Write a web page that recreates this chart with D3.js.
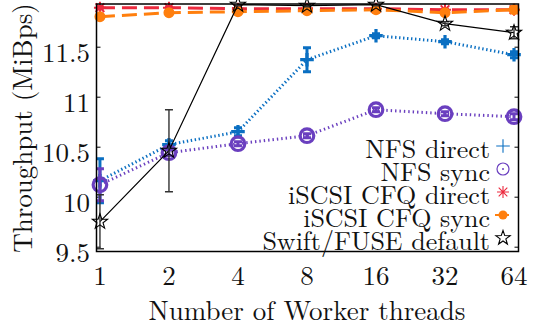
<!DOCTYPE html>
<html>
<head>
<meta charset="utf-8">
<script src="https://cdn.jsdelivr.net/npm/d3@7"></script>
<style>
  html, body { margin: 0; padding: 0; background: #fff; }
  svg { display: block; }
</style>
</head>
<body>
<svg id="chart" width="541" height="327"></svg>
<script>
// Worker thread counts (x axis, log2 spaced)
const threads = [1, 2, 4, 8, 16, 32, 64];

// Throughput per configuration, MiB/s, with error half-widths
const nfsDirect      = [10.16, 10.52, 10.65, 11.37, 11.61, 11.55, 11.42];
const nfsDirectErr   = [0.22, 0.04, 0.04, 0.12, 0.02, 0.02, 0.03];
const nfsSync        = [10.12, 10.44, 10.53, 10.61, 10.87, 10.83, 10.80];
const nfsSyncErr     = [0.16, 0.03, 0.02, 0.02, 0.02, 0.02, 0.03];
const iscsiDirect    = [11.89, 11.89, 11.88, 11.88, 11.88, 11.87, 11.87];
const iscsiDirectErr = [0.01, 0.01, 0.01, 0.01, 0.01, 0.01, 0.01];
const iscsiSync      = [11.80, 11.84, 11.85, 11.86, 11.87, 11.84, 11.87];
const iscsiSyncErr   = [0.01, 0.01, 0.01, 0.01, 0.01, 0.01, 0.01];
const swift          = [9.75, 10.46, 11.92, 11.91, 11.92, 11.73, 11.64];
const swiftErr       = [0.27, 0.41, 0.01, 0.01, 0.01, 0.02, 0.06];

const seriesNames = ["NFS direct", "NFS sync", "iSCSI CFQ direct", "iSCSI CFQ sync", "Swift/FUSE default"];
const yTicks = [9.5, 10, 10.5, 11, 11.5];
const yTickLabels = ["9.5", "10", "10.5", "11", "11.5"];
const xTickLabels = ["1", "2", "4", "8", "16", "32", "64"];

const FONT = '"Latin Modern Roman", "Liberation Serif", serif';

const series = [
  { name: seriesNames[0], values: nfsDirect,   err: nfsDirectErr,   color: "#0a6fc2", width: 3,   dash: "1.4,2.6", marker: "plus",   ew: 3 },
  { name: seriesNames[1], values: nfsSync,     err: nfsSyncErr,     color: "#6a3fbf", width: 3,   dash: "1.4,3",   marker: "circle", ew: 3 },
  { name: seriesNames[2], values: iscsiDirect, err: iscsiDirectErr, color: "#ec2a3e", width: 3,   dash: "15,7",    marker: "aster",  ew: 2 },
  { name: seriesNames[3], values: iscsiSync,   err: iscsiSyncErr,   color: "#ff7f0e", width: 3,   dash: "15,7",    marker: "dot",    ew: 2 },
  { name: seriesNames[4], values: swift,       err: swiftErr,       color: "#000000", width: 1.2, dash: null,      marker: "star",   ew: 1.4 }
];

const svg = d3.select("#chart");
const L = 96.5, R = 518.5, T = 4, B = 251.5;

const x = d3.scaleLog().base(2)
  .domain([Math.pow(2, -0.05), Math.pow(2, 6.065)])
  .range([L, R]);
const y = d3.scaleLinear().domain([9.452, 11.927]).range([B, T]);

svg.append("defs").append("clipPath").attr("id", "plotClip")
  .append("rect").attr("x", L).attr("y", T).attr("width", R - L).attr("height", B - T);

function label(sel) {
  return sel.style("font-family", FONT).attr("fill", "#111");
}

// Axes: left ticks point inward, mirrored ticks on the right
const yLeft = d3.axisLeft(y).tickValues(yTicks).tickSize(-4).tickFormat("");
const yRight = d3.axisRight(y).tickValues(yTicks).tickSize(-4).tickFormat("");
svg.append("g").attr("transform", `translate(${L},0)`).call(yLeft)
  .call(g => g.select(".domain").remove())
  .selectAll("line").attr("stroke", "#000").attr("stroke-width", 1);
svg.append("g").attr("transform", `translate(${R},0)`).call(yRight)
  .call(g => g.select(".domain").remove())
  .selectAll("line").attr("stroke", "#000").attr("stroke-width", 1);

// Tick labels
svg.append("g").selectAll("text").data(yTicks).join("text")
  .call(label)
  .attr("x", 90).attr("y", d => y(d) + 15.5)
  .attr("text-anchor", "end")
  .style("font-size", "27px")
  .text((d, i) => yTickLabels[i]);
svg.append("g").selectAll("text").data(threads).join("text")
  .call(label)
  .attr("x", d => x(d)).attr("y", 285)
  .attr("text-anchor", "middle")
  .style("font-size", "27px")
  .text((d, i) => xTickLabels[i]);

// Axis titles
svg.append("text").call(label).attr("x", 307).attr("y", 319.5)
  .attr("text-anchor", "middle").style("font-size", "27px")
  .text("Number of Worker threads");
svg.append("text").call(label)
  .attr("transform", "translate(32,128) rotate(-90)")
  .attr("text-anchor", "middle").style("font-size", "27px")
  .text("Throughput (MiBps)");

// Marker shapes
function drawMarker(g, kind, cx, cy, color, big) {
  const sw = big ? 3.2 : 1.1;
  if (kind === "plus") {
    const h = 6.8;
    g.append("path").attr("d", `M${cx - h},${cy}H${cx + h}M${cx},${cy - h}V${cy + h}`)
      .attr("stroke", color).attr("stroke-width", sw).attr("fill", "none");
  } else if (kind === "circle") {
    g.append("circle").attr("cx", cx).attr("cy", cy).attr("r", big ? 6.8 : 6)
      .attr("stroke", color).attr("stroke-width", big ? 3.2 : 1.2).attr("fill", "none");
  } else if (kind === "aster") {
    const h = 6, d = h * 0.72;
    g.append("path")
      .attr("d", `M${cx - h},${cy}H${cx + h}M${cx},${cy - h}V${cy + h}M${cx - d},${cy - d}L${cx + d},${cy + d}M${cx - d},${cy + d}L${cx + d},${cy - d}`)
      .attr("stroke", color).attr("stroke-width", big ? 2 : 1.1).attr("fill", "none");
  } else if (kind === "dot") {
    g.append("circle").attr("cx", cx).attr("cy", cy).attr("r", big ? 5.5 : 4.5)
      .attr("fill", color);
  } else if (kind === "star") {
    const ro = big ? 8 : 7.5, ri = ro * 0.4;
    const pts = d3.range(10).map(k => {
      const a = -Math.PI / 2 + k * Math.PI / 5;
      const r = k % 2 === 0 ? ro : ri;
      return [cx + r * Math.cos(a), cy + r * Math.sin(a)];
    });
    g.append("path").attr("d", "M" + pts.join("L") + "Z")
      .attr("stroke", color).attr("stroke-width", 1.1).attr("fill", "none");
  }
}

const plot = svg.append("g");
series.forEach(s => {
  const g = plot.append("g");
  const clipped = g.append("g").attr("clip-path", "url(#plotClip)");
  const line = d3.line().x((d, i) => x(threads[i])).y(d => y(d));
  clipped.append("path").datum(s.values)
    .attr("d", line).attr("fill", "none")
    .attr("stroke", s.color).attr("stroke-width", s.width)
    .attr("stroke-dasharray", s.dash);
  // Error bars with caps
  s.values.forEach((v, i) => {
    const cx = x(threads[i]);
    const y0 = y(v - s.err[i]), y1 = y(v + s.err[i]);
    clipped.append("path")
      .attr("d", `M${cx},${y0}V${y1}M${cx - 4},${y0}H${cx + 4}M${cx - 4},${y1}H${cx + 4}`)
      .attr("stroke", s.color === "#000000" ? "#333" : s.color)
      .attr("stroke-width", s.ew).attr("fill", "none");
  });
  s.values.forEach((v, i) => drawMarker(g, s.marker, x(threads[i]), y(v), s.color, true));
});

// Frame
svg.append("rect").attr("x", L).attr("y", T).attr("width", R - L).attr("height", B - T)
  .attr("fill", "none").attr("stroke", "#000").attr("stroke-width", 1.5);

// Legend: right-aligned labels with short samples
const legX = 490, legM = 503;
const legBase = [158, 181, 204, 227, 250];
series.forEach((s, i) => {
  const g = svg.append("g");
  g.append("text").call(label).attr("x", legX).attr("y", legBase[i])
    .attr("text-anchor", "end")
    .style("font-size", "26px").text(s.name);
  const my = legBase[i] - 12;
  if (s.marker === "dot") {
    g.append("line").attr("x1", legM - 8).attr("x2", legM + 6).attr("y1", my).attr("y2", my)
      .attr("stroke", s.color).attr("stroke-width", 2);
  }
  if (s.marker === "circle") {
    g.append("circle").attr("cx", legM).attr("cy", my).attr("r", 1).attr("fill", s.color);
  }
  drawMarker(g, s.marker, legM, my, s.color, false);
});
</script>
</body>
</html>
